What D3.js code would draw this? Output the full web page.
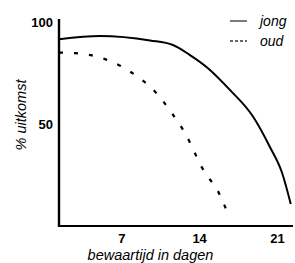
<!DOCTYPE html>
<html><head><meta charset="utf-8">
<script src="https://cdn.jsdelivr.net/npm/d3@7"></script>
<style>body{margin:0;background:#fff}svg{display:block}</style>
</head><body>
<script>
const jongDays = [1.35, 5.04, 9.54, 11.6, 13.1, 14.7, 16.7, 18.8, 20.3, 21.4, 22.2];
const jongVals = [91.1, 92.7, 90.5, 88.3, 83.5, 77.2, 66.5, 53.4, 38.8, 26.2, 10.7];
const oudDays = [1.35, 2.79, 4.05, 5.49, 6.84, 8.37, 9.54, 10.6, 11.4, 12.15, 12.9, 13.5, 14.1, 14.85, 15.5, 16.0, 16.4];
const oudVals = [84.6, 84.3, 83.5, 81.4, 78.2, 73.0, 68.0, 61.7, 55.8, 50.0, 43.2, 36.4, 29.6, 23.3, 18.4, 13.1, 7.8];
const xTicks = [7, 14, 21];
const yTicks = [50, 100];
const legendLabels = ["jong", "oud"];

const W = 295, H = 263;
const svg = d3.select("body").append("svg").attr("width", W).attr("height", H);
const x = d3.scaleLinear().domain([1.35, 22.4]).range([59, 293]);
const y = d3.scaleLinear().domain([0, 100]).range([226, 21]);

// axes lines
svg.append("line").attr("x1", x(1.35)).attr("x2", x(1.35)).attr("y1", 19).attr("y2", y(0) + 1)
  .attr("stroke", "#000").attr("stroke-width", 2.4);
svg.append("line").attr("x1", x(1.35) - 1).attr("x2", x(22.4)).attr("y1", y(0)).attr("y2", y(0))
  .attr("stroke", "#000").attr("stroke-width", 2);

const tickFont = "'Liberation Sans', Arial, sans-serif";
svg.selectAll(".yt").data(yTicks).enter().append("text")
  .attr("x", 53).attr("y", d => y(d) + 1).attr("dy", "0.35em")
  .attr("text-anchor", "end").attr("font-family", tickFont).attr("font-size", 13)
  .attr("font-weight", "bold").text(d => d);
svg.selectAll(".xt").data(xTicks).enter().append("text")
  .attr("x", d => x(d)).attr("y", 243)
  .attr("text-anchor", "middle").attr("font-family", tickFont).attr("font-size", 13)
  .attr("font-weight", "bold").text(d => d);

// axis titles
svg.append("text").attr("x", 150.5).attr("y", 260).attr("text-anchor", "middle")
  .attr("font-family", tickFont).attr("font-style", "italic").attr("font-size", 14.5)
  .text("bewaartijd in dagen");
svg.append("text").attr("transform", "translate(26,115) rotate(-90)").attr("text-anchor", "middle")
  .attr("font-family", tickFont).attr("font-style", "italic").attr("font-size", 14.5)
  .text("% uitkomst");

const line = d3.line().x(d => x(d[0])).y(d => y(d[1])).curve(d3.curveMonotoneX);
svg.append("path").attr("d", line(d3.zip(jongDays, jongVals)))
  .attr("fill", "none").attr("stroke", "#000").attr("stroke-width", 2);
svg.append("path").attr("d", line(d3.zip(oudDays, oudVals)))
  .attr("fill", "none").attr("stroke", "#000").attr("stroke-width", 2.2)
  .attr("stroke-dasharray", "4,11");

// legend
const leg = [{lbl: legendLabels[0], dash: null, y: 21}, {lbl: legendLabels[1], dash: "3,2", y: 41}];
leg.forEach(l => {
  svg.append("line").attr("x1", 230).attr("x2", 247).attr("y1", l.y).attr("y2", l.y)
    .attr("stroke", "#333").attr("stroke-width", 1.3).attr("stroke-dasharray", l.dash);
  svg.append("text").attr("x", 260).attr("y", l.y + 5).attr("font-family", tickFont)
    .attr("font-style", "italic").attr("font-size", 14).text(l.lbl);
});
</script>
</body></html>
